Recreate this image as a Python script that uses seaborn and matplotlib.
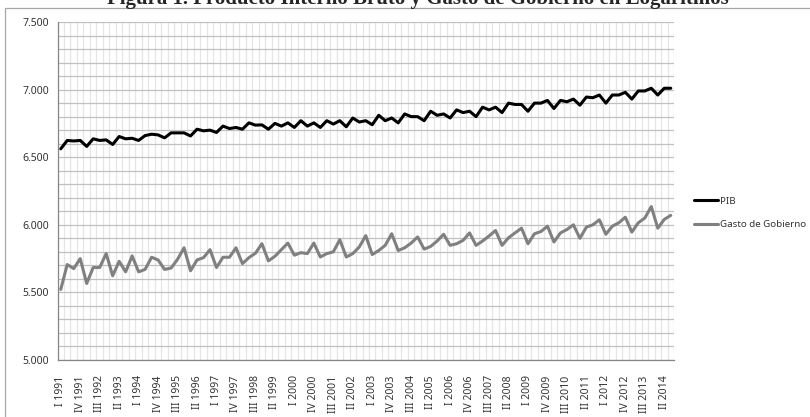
import numpy as np
import pandas as pd
import matplotlib
matplotlib.use('Agg')
import matplotlib.pyplot as plt
import matplotlib.patches as mpatches
from matplotlib.ticker import MultipleLocator, FixedLocator, FuncFormatter
import seaborn as sns

# quarters I 1991 .. III 2014
years = list(range(1991, 2015))
roman = ['I', 'II', 'III', 'IV']
quarters = [f"{q} {y}" for y in years for q in roman][:95]

pib = [
    6.562, 6.624, 6.620, 6.624, 6.580, 6.636, 6.624, 6.628, 6.594, 6.653,
    6.636, 6.640, 6.624, 6.660, 6.670, 6.665, 6.643, 6.680, 6.680, 6.680,
    6.657, 6.707, 6.695, 6.700, 6.683, 6.730, 6.712, 6.720, 6.707, 6.754,
    6.737, 6.739, 6.707, 6.750, 6.730, 6.754, 6.720, 6.770, 6.730, 6.754,
    6.720, 6.770, 6.745, 6.770, 6.725, 6.790, 6.760, 6.770, 6.740, 6.810,
    6.770, 6.790, 6.754, 6.820, 6.800, 6.800, 6.770, 6.840, 6.810, 6.820,
    6.790, 6.850, 6.830, 6.840, 6.800, 6.870, 6.850, 6.870, 6.830, 6.900,
    6.890, 6.890, 6.840, 6.900, 6.900, 6.920, 6.860, 6.920, 6.910, 6.930,
    6.885, 6.945, 6.940, 6.960, 6.900, 6.960, 6.960, 6.980, 6.930, 6.990,
    6.990, 7.010, 6.960, 7.010, 7.010,
]

gasto = [
    5.522, 5.706, 5.676, 5.750, 5.566, 5.684, 5.684, 5.787, 5.623, 5.730,
    5.652, 5.770, 5.652, 5.670, 5.760, 5.740, 5.670, 5.680, 5.745, 5.830,
    5.660, 5.740, 5.757, 5.816, 5.684, 5.760, 5.760, 5.830, 5.713, 5.757,
    5.790, 5.860, 5.733, 5.767, 5.816, 5.865, 5.775, 5.794, 5.787, 5.865,
    5.762, 5.787, 5.800, 5.890, 5.762, 5.787, 5.836, 5.920, 5.780, 5.810,
    5.848, 5.934, 5.810, 5.830, 5.865, 5.910, 5.820, 5.840, 5.880, 5.930,
    5.848, 5.860, 5.885, 5.940, 5.848, 5.880, 5.917, 5.958, 5.848, 5.904,
    5.940, 5.975, 5.860, 5.934, 5.950, 5.990, 5.873, 5.940, 5.965, 6.000,
    5.900, 5.983, 6.000, 6.037, 5.930, 5.990, 6.015, 6.056, 5.946, 6.015,
    6.050, 6.135, 5.975, 6.040, 6.070,
]

df = pd.DataFrame({'pos': np.arange(len(quarters)), 'Trimestre': quarters,
                   'PIB': pib, 'Gasto de Gobierno': gasto})
long = df.melt(id_vars=['pos', 'Trimestre'], var_name='Serie', value_name='Valor')

sns.set_style('white')
plt.rcParams['font.family'] = ['Noto Sans', 'DejaVu Sans']

fig = plt.figure(figsize=(8.1, 4.17), dpi=100)
ax = fig.add_axes([57.5 / 810, 1 - 360 / 417, (674 - 57.5) / 810, (360 - 22) / 417])

# outer chart frame (Excel style)
fig.patches.append(mpatches.Rectangle((5 / 810, -0.1), 1.1, 1.1 - 8 / 417,
                                      transform=fig.transFigure, fill=False,
                                      edgecolor='#a6a6a6', linewidth=0.9, zorder=0))

sns.lineplot(data=long, x='pos', y='Valor', hue='Serie',
             palette={'PIB': '#000000', 'Gasto de Gobierno': '#808080'},
             linewidth=2.2, ax=ax, legend=False)

ax.set_xlim(-0.5, len(quarters) - 0.5)
ax.set_ylim(5.0, 7.5)

# y axis
ax.yaxis.set_major_locator(MultipleLocator(0.5))
ax.yaxis.set_minor_locator(MultipleLocator(0.1))
ax.yaxis.set_major_formatter(FuncFormatter(lambda v, p: f"{v:.3f}"))
ax.tick_params(axis='y', which='major', length=3, width=0.8, color='#868686',
               labelsize=7.5, labelcolor='#333333', pad=3)
ax.tick_params(axis='y', which='minor', length=0)

# x axis
ax.xaxis.set_major_locator(FixedLocator(df['pos'][::3]))
ax.set_xticklabels(df['Trimestre'][::3], rotation=90)
ax.xaxis.set_minor_locator(FixedLocator(np.arange(-0.5, len(quarters), 1)))
ax.tick_params(axis='x', which='major', length=0, labelsize=7.5,
               labelcolor='#333333', pad=11)
ax.tick_params(axis='x', which='minor', length=3.5, width=0.8, color='#868686')

ax.grid(False)
ax.grid(axis='y', which='both', color='#c0c0c0', linewidth=0.9)
ax.grid(axis='x', which='minor', color='#e6e6e6', linewidth=0.9)
ax.set_axisbelow(True)
ax.set_xlabel('')
ax.set_ylabel('')

for side in ['top', 'right']:
    ax.spines[side].set_visible(False)
for side in ['left', 'bottom']:
    ax.spines[side].set_color('#868686')
    ax.spines[side].set_linewidth(0.9)

handles = [plt.Line2D([], [], color='#000000', linewidth=2.2),
           plt.Line2D([], [], color='#808080', linewidth=2.2)]
fig.legend(handles, ['PIB', 'Gasto de Gobierno'], loc='center left',
           bbox_to_anchor=(689 / 810, 1 - 213 / 417), frameon=False,
           fontsize=7, handlelength=2.5, handletextpad=0.2,
           labelspacing=1.5, borderpad=0, labelcolor='#333333')

fig.text(418 / 810, 1 - 4 / 417,
         'Figura 1. Producto Interno Bruto y Gasto de Gobierno en Logaritmos',
         ha='center', va='baseline', fontsize=15, fontweight='bold',
         family=['Liberation Serif', 'DejaVu Serif'])

fig.savefig('out.png', dpi=100)
